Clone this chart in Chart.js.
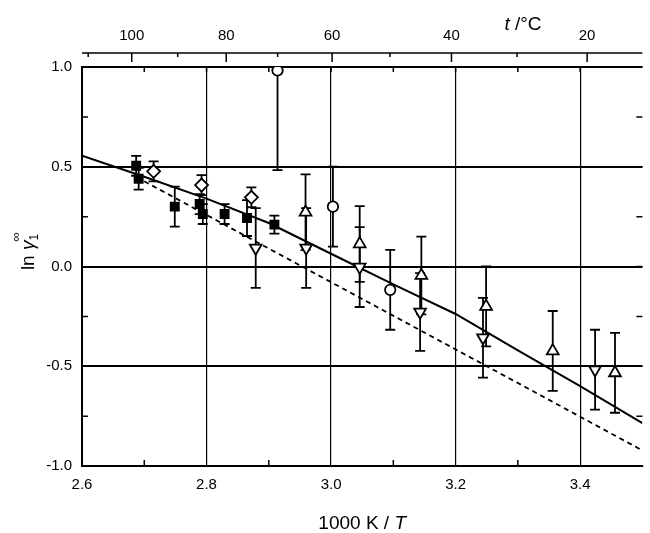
<!DOCTYPE html>
<html><head><meta charset="utf-8">
<script src="https://cdn.jsdelivr.net/npm/chart.js@4.4.0/dist/chart.umd.min.js"></script>
<style>html,body{margin:0;padding:0;background:#fff;overflow:hidden;}#wrap{width:651px;height:533px;}</style>
</head><body><div id="wrap"><canvas id="c" width="651" height="533"></canvas></div>
<script>
// ---- axis ticks ----
const xTickValues = [2.6, 2.8, 3.0, 3.2, 3.4];
const xMinorTicks = [2.7, 2.9, 3.1, 3.3];
const yTickValues = [-1.0, -0.5, 0.0, 0.5, 1.0];
const yMinorTicks = [-0.75, -0.25, 0.25, 0.75];
const topTickLabels = [100, 80, 60, 40, 20];   // t / °C
const topMinorTicks = [110, 90, 70, 50, 30];

// ---- data (x = 1000 K / T, y = ln gamma, err = half error bar) ----
const squareX = [2.687, 2.691, 2.749, 2.789, 2.794, 2.829, 2.865, 2.909];
const squareY = [0.505, 0.440, 0.300, 0.313, 0.263, 0.263, 0.243, 0.210];
const squareErr = [0.05, 0.055, 0.10, 0.05, 0.05, 0.05, 0.09, 0.045];

const diamondX = [2.715, 2.792, 2.872];
const diamondY = [0.477, 0.408, 0.347];
const diamondErr = [0.05, 0.05, 0.05];

const circleX = [2.914, 3.003, 3.095];
const circleY = [0.983, 0.300, -0.117];
const circleErr = [0.50, 0.20, 0.20];

const upX = [2.959, 3.046, 3.145, 3.249, 3.356, 3.456];
const upY = [0.272, 0.113, -0.045, -0.200, -0.423, -0.533];
const upErr = [0.19, 0.19, 0.195, 0.20, 0.20, 0.20];

const downX = [2.879, 2.960, 3.046, 3.143, 3.244, 3.424];
const downY = [0.093, 0.093, -0.003, -0.228, -0.357, -0.517];
const downErr = [0.20, 0.20, 0.20, 0.195, 0.20, 0.20];

// solid model curve
const solidX = [2.6, 2.7, 2.8, 2.9, 3.0, 3.1, 3.2, 3.3, 3.4, 3.5];
const solidY = [0.555, 0.450, 0.340, 0.218, 0.064, -0.090, -0.238, -0.420, -0.600, -0.785];
// dashed model line
const dashX = [2.70, 2.90, 3.10, 3.30, 3.50];
const dashY = [0.427, 0.090, -0.247, -0.584, -0.922];

const FONT = '"Liberation Sans", Arial, Helvetica, sans-serif';
const pts = (xs, ys) => xs.map((x, i) => ({x, y: ys[i]}));

function marker(xs, ys, style, opts) {
  return Object.assign({
    type: 'scatter', data: pts(xs, ys), pointStyle: style,
    borderColor: '#000', backgroundColor: '#fff', pointBorderWidth: 1.8,
    showLine: false
  }, opts);
}

const errorSets = [
  [squareX, squareY, squareErr], [diamondX, diamondY, diamondErr],
  [circleX, circleY, circleErr], [upX, upY, upErr], [downX, downY, downErr]
];

const decor = {
  id: 'decor',
  beforeDatasetsDraw(chart) {
    const {ctx, chartArea: a, scales: {x, y}} = chart;
    ctx.save();
    ctx.beginPath(); ctx.rect(a.left, a.top, a.right - a.left, a.bottom - a.top); ctx.clip();
    ctx.strokeStyle = '#000'; ctx.lineWidth = 1.8;
    errorSets.forEach(([xs, ys, es]) => {
      xs.forEach((xv, i) => {
        const px = x.getPixelForValue(xv);
        const p1 = y.getPixelForValue(ys[i] + es[i]);
        const p2 = y.getPixelForValue(ys[i] - es[i]);
        ctx.beginPath();
        ctx.moveTo(px, p1); ctx.lineTo(px, p2);
        ctx.moveTo(px - 5, p1); ctx.lineTo(px + 5, p1);
        ctx.moveTo(px - 5, p2); ctx.lineTo(px + 5, p2);
        ctx.stroke();
      });
    });
    ctx.restore();
  },
  afterDraw(chart) {
    const {ctx, chartArea: a, scales: {x, y}} = chart;
    ctx.save();
    ctx.strokeStyle = '#000'; ctx.fillStyle = '#000';
    ctx.lineWidth = 1.5;
    ctx.beginPath();
    xMinorTicks.forEach(v => { const p = x.getPixelForValue(v); ctx.moveTo(p, a.bottom); ctx.lineTo(p, a.bottom - 6); });
    xMinorTicks.concat(xTickValues.slice(1)).forEach(v => { const p = x.getPixelForValue(v); ctx.moveTo(p, a.top); ctx.lineTo(p, a.top + 5); });
    yMinorTicks.forEach(v => { const p = y.getPixelForValue(v); ctx.moveTo(a.left, p); ctx.lineTo(a.left + 6, p); });
    yMinorTicks.concat(yTickValues).forEach(v => { const p = y.getPixelForValue(v); ctx.moveTo(a.right, p); ctx.lineTo(a.right - 6, p); });
    ctx.stroke();

    // top temperature axis
    const ty = a.top - 14;
    ctx.beginPath();
    ctx.moveTo(a.left, ty); ctx.lineTo(a.right, ty);
    topTickLabels.forEach(t => { const p = x.getPixelForValue(1000 / (t + 273.15)); ctx.moveTo(p, ty); ctx.lineTo(p, ty + 9); });
    topMinorTicks.forEach(t => { const v = 1000 / (t + 273.15); if (v < x.min || v > x.max) return; const p = x.getPixelForValue(v); ctx.moveTo(p, ty); ctx.lineTo(p, ty + 4); });
    ctx.stroke();
    ctx.font = '15px ' + FONT;
    ctx.textAlign = 'center'; ctx.textBaseline = 'middle';
    topTickLabels.forEach(t => { const p = x.getPixelForValue(1000 / (t + 273.15)); ctx.fillText(String(t), p, 36); });

    // top title "t /°C"
    ctx.textBaseline = 'alphabetic'; ctx.textAlign = 'left';
    const f1 = 'italic 19px ' + FONT, f2 = '19px ' + FONT;
    ctx.font = f1; const wt = ctx.measureText('t').width;
    ctx.font = f2; const wr = ctx.measureText(' /°C').width;
    let sx = 523 - (wt + wr) / 2;
    ctx.font = f1; ctx.fillText('t', sx, 30);
    ctx.font = f2; ctx.fillText(' /°C', sx + wt, 30);

    // x title "1000 K / T"
    ctx.font = f2; const wa = ctx.measureText('1000 K / ').width;
    ctx.font = f1; const wb = ctx.measureText('T').width;
    sx = (a.left + a.right) / 2 - (wa + wb) / 2;
    ctx.font = f2; ctx.fillText('1000 K / ', sx, 529);
    ctx.font = f1; ctx.fillText('T', sx + wa, 529);

    // y title "ln γ1∞"
    ctx.save();
    ctx.translate(34, 252);
    ctx.rotate(-Math.PI / 2);
    ctx.font = f2; const wl = ctx.measureText('ln ').width;
    ctx.font = f1; const wg = ctx.measureText('γ').width;
    ctx.font = '12px ' + FONT; const ws = ctx.measureText('1').width;
    let s = -(wl + wg + ws) / 2;
    ctx.font = f2; ctx.fillText('ln ', s, 0);
    ctx.font = f1; ctx.fillText('γ', s + wl, 0);
    ctx.font = '12px ' + FONT; ctx.fillText('1', s + wl + wg, 4);
    ctx.font = '13px ' + FONT; ctx.fillText('∞', s + wl + wg - 1, -14);
    ctx.restore();
    ctx.restore();
  }
};

new Chart(document.getElementById('c'), {
  type: 'scatter',
  data: {
    datasets: [
      marker(squareX, squareY, 'rect', {backgroundColor: '#000', pointRadius: 7, pointBorderWidth: 0}),
      marker(diamondX, diamondY, 'rectRot', {pointRadius: 6.5}),
      marker(circleX, circleY, 'circle', {pointRadius: 5.2}),
      marker(upX, upY, 'triangle', {pointRadius: 6.8}),
      marker(downX, downY, 'triangle', {pointRadius: 6.8, pointRotation: 180}),
      {type: 'line', data: pts(solidX, solidY), borderColor: '#000', borderWidth: 2, pointRadius: 0, fill: false, tension: 0},
      {type: 'line', data: pts(dashX, dashY), borderColor: '#000', borderWidth: 1.8, borderDash: [5, 4], pointRadius: 0, fill: false, tension: 0}
    ]
  },
  options: {
    responsive: false, animation: false, devicePixelRatio: 1,
    layout: {padding: {top: 67, left: 0, right: 0, bottom: 0}},
    plugins: {legend: {display: false}, tooltip: {enabled: false}},
    scales: {
      x: {
        type: 'linear', min: 2.6, max: 3.5,
        afterBuildTicks: s => { s.ticks = xTickValues.map(v => ({value: v})); },
        afterFit: s => { s.height = 67; },
        ticks: {callback: v => Number(v).toFixed(1), color: '#000', font: {size: 15, family: FONT}, padding: 10, maxRotation: 0, autoSkip: false},
        grid: {color: c => (c.tick && c.tick.value === 2.6) ? 'rgba(0,0,0,0)' : '#000', lineWidth: 1.2, drawTicks: false},
        border: {display: true, color: '#000', width: 2}
      },
      y: {
        type: 'linear', min: -1, max: 1,
        afterBuildTicks: s => { s.ticks = yTickValues.map(v => ({value: v})); },
        afterFit: s => { s.width = 82; },
        ticks: {callback: v => Number(v).toFixed(1), color: '#000', font: {size: 15, family: FONT}, padding: 10},
        grid: {color: '#000', lineWidth: 2, drawTicks: false},
        border: {display: true, color: '#000', width: 2}
      }
    }
  },
  plugins: [decor]
});
</script></body></html>
